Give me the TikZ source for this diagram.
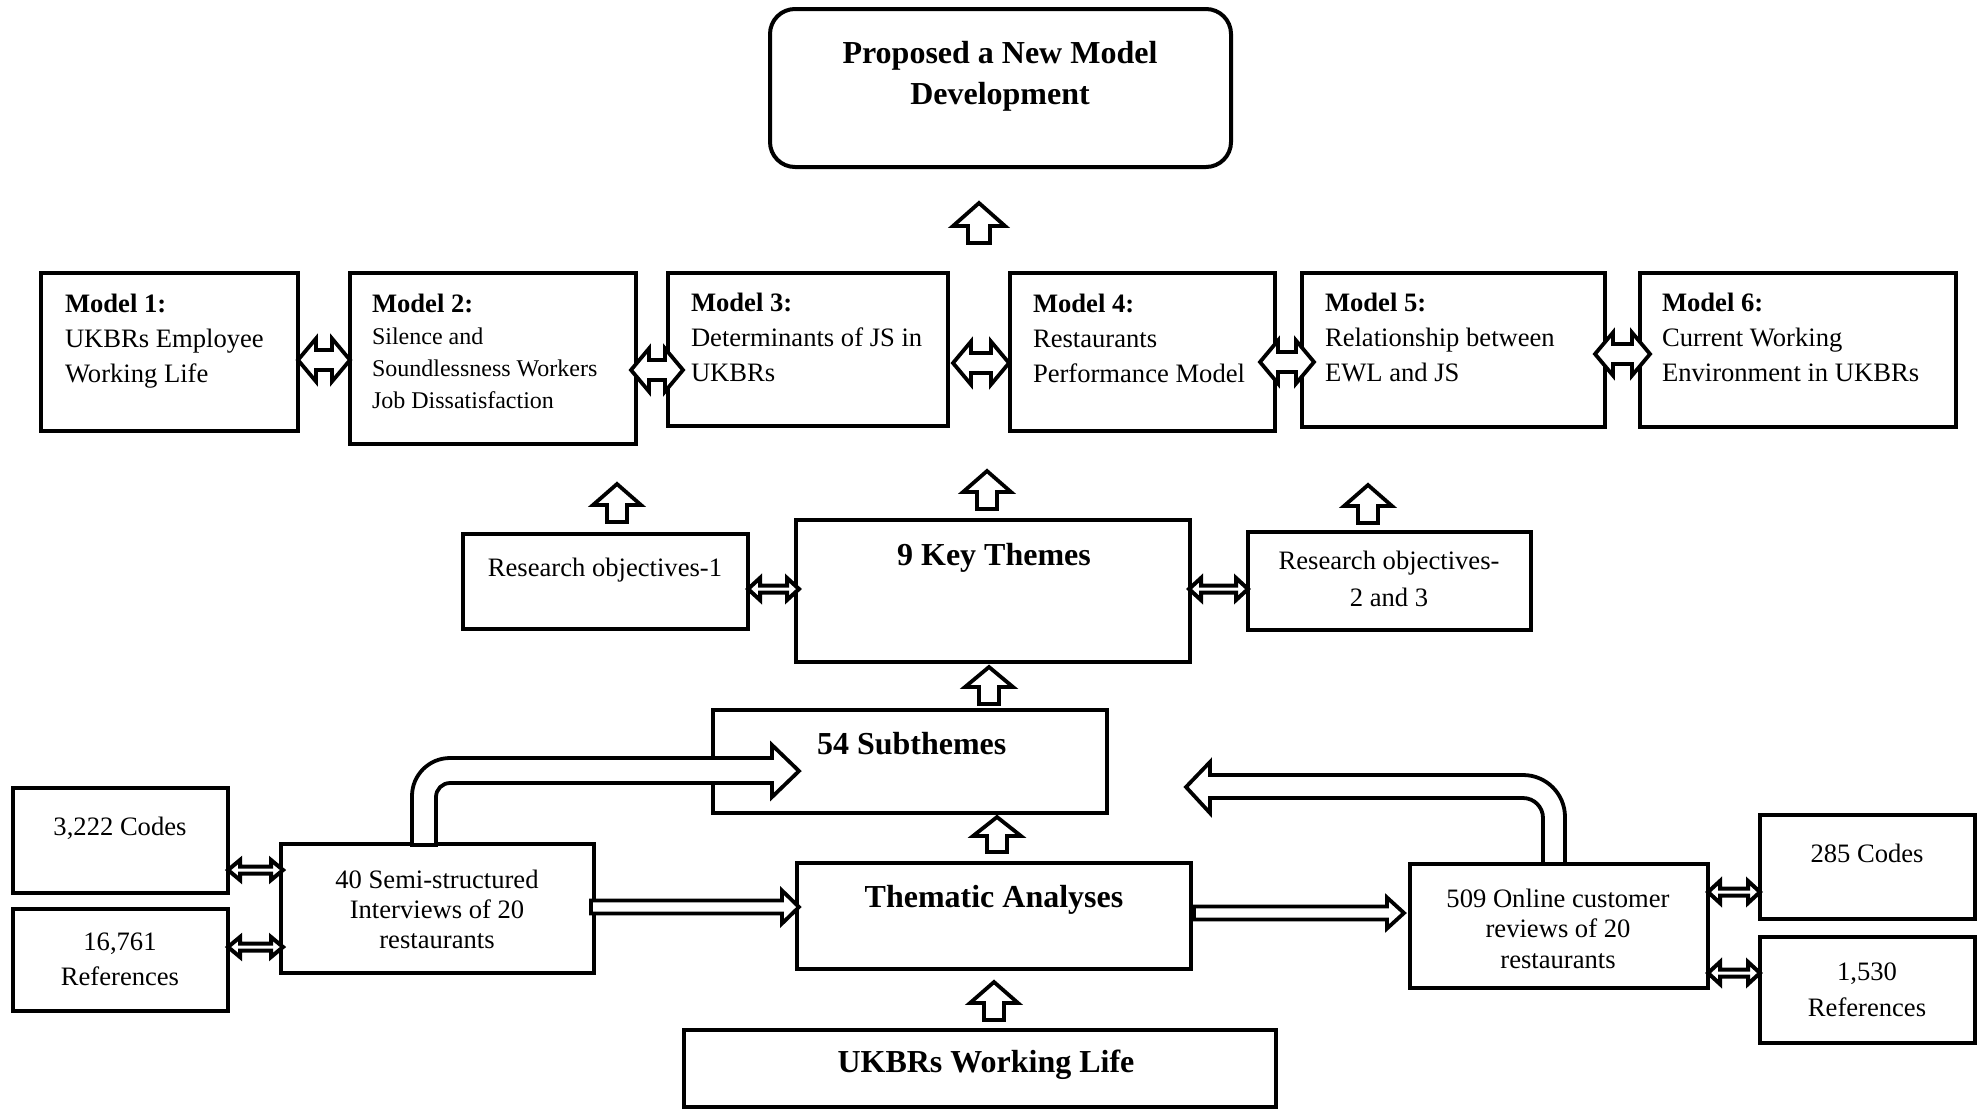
\documentclass[tikz,border=0pt]{standalone}
\usepackage{fontspec}
\setmainfont{Liberation Serif}
\usetikzlibrary{fit}
\newcommand\pbl[1]{\parbox[t]{300pt}{#1}}
\newcommand\pbc[1]{\parbox[t]{300pt}{\centering #1}}
\tikzset{
  box/.style={draw=black, line width=2pt, inner sep=0pt, outer sep=0pt, fill=white},
  tx/.style={inner sep=0pt, outer sep=0pt, font=\fontsize{13.3}{17.5}\selectfont},
  ttl/.style={inner sep=0pt, outer sep=0pt, font=\fontsize{16}{20.5}\selectfont\bfseries},
  arr/.style={draw=black, line width=1.9pt, fill=white, line join=miter},
  thin arr/.style={arr, line width=2pt},
  pics/sarrow/.style n args={4}{code={%
    \path[arr] (0,-#2) -- ({#1-#4},-#2) -- ({#1-#4},-#3) -- (#1,0) -- ({#1-#4},#3) -- ({#1-#4},#2) -- (0,#2) -- cycle;}},
  pics/darrow/.style n args={4}{code={%
    \path[arr] (0,0) -- (#4,-#3) -- (#4,-#2) -- ({#1-#4},-#2) -- ({#1-#4},-#3) -- (#1,0) -- ({#1-#4},#3) -- ({#1-#4},#2) -- (#4,#2) -- (#4,#3) -- cycle;}},
  pics/tdarrow/.style n args={4}{code={%
    \path[thin arr] (0,0) -- (#4,-#3) -- (#4,-#2) -- ({#1-#4},-#2) -- ({#1-#4},-#3) -- (#1,0) -- ({#1-#4},#3) -- ({#1-#4},#2) -- (#4,#2) -- (#4,#3) -- cycle;}},
}
\begin{document}
\begin{tikzpicture}[x=0.5pt,y=-0.5pt]
\useasboundingbox[fill=white] (0,0) rectangle (1985,1110);

% ---------- boxes ----------
\node[box, rounded corners=12.5pt, fit={(770,9) (1231,167)}] (top) {};
\node[box, fit={(41,273) (298,431)}] (m1) {};
\node[box, fit={(350,273) (636,444)}] (m2) {};
\node[box, fit={(668,273) (948,426)}] (m3) {};
\node[box, fit={(1010,273) (1275,431)}] (m4) {};
\node[box, fit={(1302,273) (1605,427)}] (m5) {};
\node[box, fit={(1640,273) (1956,427)}] (m6) {};
\node[box, fit={(463,534) (748,629)}] (ro1) {};
\node[box, fit={(796,520) (1190,662)}] (kt) {};
\node[box, fit={(1248,532) (1531,630)}] (ro2) {};
\node[box, fit={(713,710) (1107,813)}] (sub) {};
\node[box, fit={(797,863) (1191,969)}] (ta) {};
\node[box, fit={(684,1030) (1276,1107)}] (ukl) {};
\node[box, fit={(13,788) (228,893)}] (c1) {};
\node[box, fit={(13,909) (228,1011)}] (r1) {};
\node[box, fit={(281,844) (594,973)}] (semi) {};
\node[box, fit={(1410,864) (1708,988)}] (onl) {};
\node[box, fit={(1760,815) (1975,919)}] (c2) {};
\node[box, fit={(1760,937) (1975,1043)}] (r2) {};

% ---------- texts ----------
\node[ttl, anchor=base] (topt) at (1000,63) {\pbc{Proposed a New Model\\Development}};
\node[tx, anchor=base west] (m1t) at (65,312) {\pbl{\textbf{Model 1:}\\UKBRs Employee\\Working Life}};
\node[tx, anchor=base west, font=\fontsize{12}{16}\selectfont] (m2t) at (372,312)
  {\pbl{{\fontsize{13.3}{16}\selectfont\bfseries Model 2:}\\Silence and\\Soundlessness Workers\\Job Dissatisfaction}};
\node[tx, anchor=base west] (m3t) at (691,311) {\pbl{\textbf{Model 3:}\\Determinants of JS in\\UKBRs}};
\node[tx, anchor=base west] (m4t) at (1033,312) {\pbl{\textbf{Model 4:}\\Restaurants\\Performance Model}};
\node[tx, anchor=base west] (m5t) at (1325,311) {\pbl{\textbf{Model 5:}\\Relationship between\\EWL and JS}};
\node[tx, anchor=base west] (m6t) at (1662,311) {\pbl{\textbf{Model 6:}\\Current Working\\Environment in UKBRs}};
\node[tx, anchor=base] (ro1t) at (605,576) {Research objectives-1};
\node[ttl, anchor=base] (ktt) at (994,565) {9 Key Themes};
\node[tx, anchor=base, font=\fontsize{13.3}{18.5}\selectfont] (ro2t) at (1389,569) {\pbc{Research objectives-\\2 and 3}};
\node[ttl, anchor=base west] (subt) at (817,754) {54 Subthemes};
\node[ttl, anchor=base] (tat) at (994,907) {Thematic Analyses};
\node[ttl, anchor=base] (uklt) at (986,1072) {UKBRs Working Life};
\node[tx, anchor=base] (c1t) at (120,835) {3,222 Codes};
\node[tx, anchor=base] (r1t) at (120,950) {\pbc{16,761\\References}};
\node[tx, anchor=base, font=\fontsize{13.3}{15}\selectfont] (semit) at (437,888) {\pbc{40 Semi-structured\\Interviews of 20\\restaurants}};
\node[tx, anchor=base, font=\fontsize{13.3}{15.25}\selectfont] (onlt) at (1558,907) {\pbc{509 Online customer\\reviews of 20\\restaurants}};
\node[tx, anchor=base] (c2t) at (1867,862) {285 Codes};
\node[tx, anchor=base, font=\fontsize{13.3}{18}\selectfont] (r2t) at (1867,980) {\pbc{1,530\\References}};

% ---------- up block arrows ----------
\pic[rotate=90] at (979,243) {sarrow={40}{11}{26}{23}};
\pic[rotate=90] at (617,522) {sarrow={38}{10}{24}{21}};
\pic[rotate=90] at (987,509) {sarrow={38}{10}{24}{21}};
\pic[rotate=90] at (1368,523) {sarrow={38}{10}{24}{21}};
\pic[rotate=90] at (989,704) {sarrow={37}{10}{24}{20}};
\pic[rotate=90] at (997,852) {sarrow={35}{10}{24}{19}};
\pic[rotate=90] at (994,1020) {sarrow={38}{10}{24}{21}};

% ---------- double arrows between models ----------
\pic at (m1.east |- 0,360) {darrow={52}{10}{21.5}{18}};
\pic at (631,370) {darrow={52}{10}{21.5}{18}};
\pic at (953,363) {darrow={56}{10}{21.5}{18}};
\pic at (1260,362) {darrow={54}{10}{21.5}{18}};
\pic at (1595,354) {darrow={55}{10}{21.5}{18}};

% ---------- thin double arrows ----------
\pic at (ro1.east |- 0,589) {tdarrow={51}{3.5}{11}{12}};
\pic at (1189,589) {tdarrow={59}{3.5}{11}{12}};
\pic at (c1.east |- 0,870) {tdarrow={55}{3.5}{10}{12}};
\pic at (r1.east |- 0,947) {tdarrow={55}{3.5}{10}{12}};
\pic at (onl.east |- 0,892) {tdarrow={52}{3.5}{11}{12}};
\pic at (onl.east |- 0,973) {tdarrow={52}{3.5}{11}{12}};

% ---------- right arrows ----------
\pic at (591,907) {sarrow={208}{6.5}{16.5}{17}};
\pic at (1194,913) {sarrow={210}{6.5}{15.5}{17}};

% ---------- bent arrows ----------
\path[arr] (412,845) -- (412,796) arc[start angle=180, end angle=270, radius=38]
  -- (772,758) -- (772,745) -- (799,771) -- (772,797) -- (772,783) -- (450,783)
  arc[start angle=270, end angle=180, radius=14] -- (436,845) -- cycle;
\path[arr] (1543,864) -- (1543,818) arc[start angle=0, end angle=-90, radius=20]
  -- (1210,798) -- (1210,813) -- (1186,787) -- (1210,762) -- (1210,775) -- (1523,775)
  arc[start angle=-90, end angle=0, radius=42] -- (1565,864) -- cycle;
\end{tikzpicture}
\end{document}
